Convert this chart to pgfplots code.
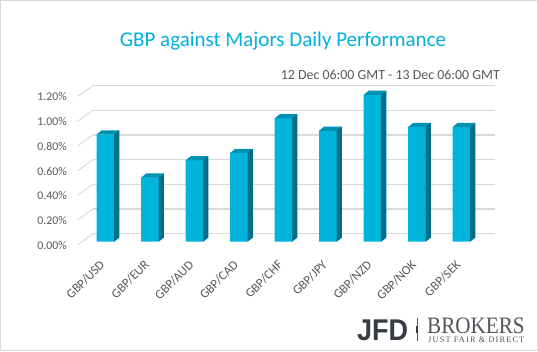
\documentclass[border=0pt]{standalone}
\usepackage{pgfplots}
\pgfplotsset{compat=1.18}
\usepackage{fontspec}
\setmainfont{Carlito}
\newfontfamily\logosans{Liberation Sans}
\newfontfamily\logoserif{Liberation Serif}
\newfontfamily\logoserifsp[LetterSpace=14]{Liberation Serif}
\definecolor{titlec}{RGB}{0,176,222}
\definecolor{textc}{RGB}{89,89,89}
\definecolor{gridc}{RGB}{217,217,217}
\definecolor{barfront}{RGB}{0,180,220}
\definecolor{bartop}{RGB}{0,146,178}
\definecolor{barside}{RGB}{0,112,136}
\definecolor{logodark}{RGB}{52,60,68}
\definecolor{logogray}{RGB}{80,86,92}

\pgfdeclareplotmark{barthreed}{%
  \pgfpathmoveto{\pgfqpoint{-8.85pt}{-0.2pt}}%
  \pgfpathlineto{\pgfqpoint{8.85pt}{-0.2pt}}%
  \pgfpathlineto{\pgfqpoint{13.85pt}{4pt}}%
  \pgfpathlineto{\pgfqpoint{-3.85pt}{4pt}}%
  \pgfpathclose
  \pgfsetfillcolor{bartop}\pgfusepath{fill}%
  \pgfpathmoveto{\pgfqpoint{8.6pt}{0pt}}%
  \pgfpathlineto{\pgfqpoint{13.85pt}{4pt}}%
  \pgfpathlineto{\pgfpoint{13.85pt}{4pt-\barh pt}}%
  \pgfpathlineto{\pgfpoint{8.6pt}{-\barh pt}}%
  \pgfpathclose
  \pgfsetfillcolor{barside}\pgfusepath{fill}%
}

\pgfplotstableread{
x v
0 0.87
1 0.52
2 0.66
3 0.72
4 1.00
5 0.90
6 1.19
7 0.93
8 0.93
}\perf

\begin{document}
\begin{tikzpicture}
\path[use as bounding box] (0pt,0pt) rectangle (538pt,-351pt);
\fill[white] (0pt,0pt) rectangle (538pt,-351pt);
\draw[gridc, line width=1pt] (0.5pt,-0.5pt) rectangle (537.5pt,-350.5pt);

\node[font=\fontsize{21}{24}\selectfont, text=titlec, anchor=base] at (283pt,-46.7pt) {GBP against Majors Daily Performance};
\node[font=\fontsize{13.9}{16}\selectfont, text=textc, anchor=base east, inner sep=0pt] at (500pt,-79.5pt) {12 Dec 06:00 GMT - 13 Dec 06:00 GMT};

\begin{axis}[
  at={(105.5pt,-241.7pt)}, anchor=origin,
  x=44.5pt, y=123.5pt,
  xmin=-0.281, xmax=8.753, ymin=0, ymax=1.2,
  clip=false,
  axis line style={draw=none},
  tick style={draw=none},
  major tick length=0pt,
  ytick={0,0.2,0.4,0.6,0.8,1.0,1.2},
  yticklabel={\textnormal{\pgfmathprintnumber[fixed,fixed zerofill,precision=2,assume math mode=true]{\tick}\%}},
  yticklabel style={font=\fontsize{11.8}{13}\selectfont, text=textc, anchor=east, inner sep=0pt, xshift=-26pt, yshift=-3.5pt},
  ymajorgrids,
  y grid style={draw=gridc, line width=1.3pt, yshift=8pt},
  xtick={0,1,2,3,4,5,6,7,8},
  xticklabels={\textnormal{GBP/USD},\textnormal{GBP/EUR},\textnormal{GBP/AUD},\textnormal{GBP/CAD},\textnormal{GBP/CHF},\textnormal{GBP/JPY},\textnormal{GBP/NZD},\textnormal{GBP/NOK},\textnormal{GBP/SEK}},
  xticklabel style={font=\fontsize{12.8}{14}\selectfont, text=textc, inner sep=0pt, xshift=-3pt, yshift=-21pt, rotate=45, anchor=east},
]
\pgfplotsinvokeforeach{0,0.2,0.4,0.6,0.8,1.0,1.2}{
  \draw[gridc, line width=0.9pt] (axis cs:-0.281,#1) ++(0pt,8pt) -- ++(-15.3pt,-11pt);
}
\addplot[ybar, bar width=17.7pt, fill=barfront, draw=none] table[x=x,y=v] {\perf};
\addplot[scatter, only marks, mark=barthreed,
  scatter/use mapped color={fill=barside},
  visualization depends on={rawy*123.5 \as \barh}] table[x=x,y=v] {\perf};
\end{axis}

\node[font=\logosans\bfseries\fontsize{30}{30}\selectfont, text=logodark, anchor=base west, inner sep=0pt, xscale=0.9, transform shape] at (357pt,-340pt) {JFD};
\draw[logogray, line width=0.6pt] (417pt,-318pt) -- (417pt,-341pt);
\draw[logodark, line width=1.8pt] (417pt,-326pt) -- (417pt,-333pt);
\node[font=\logoserif\fontsize{23.5}{24}\selectfont, text=logogray, anchor=base west, inner sep=0pt, xscale=0.9, transform shape] at (427pt,-333pt) {BROKERS};
\node[font=\logoserifsp\fontsize{8.3}{9}\selectfont, text=logogray, anchor=base west, inner sep=0pt] at (428pt,-342pt) {JUST FAIR \& DIRECT};
\end{tikzpicture}
\end{document}
